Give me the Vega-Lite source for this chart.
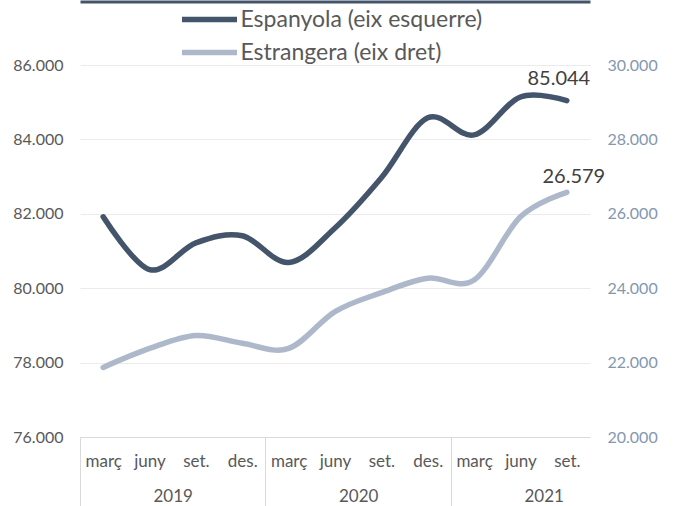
{
  "$schema": "https://vega.github.io/schema/vega-lite/v6.json",
  "width": 510,
  "height": 372,
  "autosize": {"type": "none"},
  "padding": {"left": 80, "top": 65, "right": 88, "bottom": 69},
  "background": "white",
  "config": {
    "locale": {"number": {"decimal": ",", "thousands": ".", "grouping": [3], "currency": ["", " €"]}},
    "font": "Lato",
    "view": {"stroke": null},
    "axis": {"labelFont": "Lato", "title": null}
  },
  "data": {
    "values": [
      {"i": 0, "any": "2019", "mes": "març", "serie": "Espanyola (eix esquerre)", "valor": 81920},
      {"i": 1, "any": "2019", "mes": "juny", "serie": "Espanyola (eix esquerre)", "valor": 80500},
      {"i": 2, "any": "2019", "mes": "set.", "serie": "Espanyola (eix esquerre)", "valor": 81220},
      {"i": 3, "any": "2019", "mes": "des.", "serie": "Espanyola (eix esquerre)", "valor": 81410},
      {"i": 4, "any": "2020", "mes": "març", "serie": "Espanyola (eix esquerre)", "valor": 80690},
      {"i": 5, "any": "2020", "mes": "juny", "serie": "Espanyola (eix esquerre)", "valor": 81620},
      {"i": 6, "any": "2020", "mes": "set.", "serie": "Espanyola (eix esquerre)", "valor": 82970},
      {"i": 7, "any": "2020", "mes": "des.", "serie": "Espanyola (eix esquerre)", "valor": 84580},
      {"i": 8, "any": "2021", "mes": "març", "serie": "Espanyola (eix esquerre)", "valor": 84120},
      {"i": 9, "any": "2021", "mes": "juny", "serie": "Espanyola (eix esquerre)", "valor": 85140},
      {"i": 10, "any": "2021", "mes": "set.", "serie": "Espanyola (eix esquerre)", "valor": 85044},
      {"i": 0, "any": "2019", "mes": "març", "serie": "Estrangera (eix dret)", "valor": 21870},
      {"i": 1, "any": "2019", "mes": "juny", "serie": "Estrangera (eix dret)", "valor": 22380},
      {"i": 2, "any": "2019", "mes": "set.", "serie": "Estrangera (eix dret)", "valor": 22730},
      {"i": 3, "any": "2019", "mes": "des.", "serie": "Estrangera (eix dret)", "valor": 22520},
      {"i": 4, "any": "2020", "mes": "març", "serie": "Estrangera (eix dret)", "valor": 22380},
      {"i": 5, "any": "2020", "mes": "juny", "serie": "Estrangera (eix dret)", "valor": 23370},
      {"i": 6, "any": "2020", "mes": "set.", "serie": "Estrangera (eix dret)", "valor": 23880},
      {"i": 7, "any": "2020", "mes": "des.", "serie": "Estrangera (eix dret)", "valor": 24270},
      {"i": 8, "any": "2021", "mes": "març", "serie": "Estrangera (eix dret)", "valor": 24220},
      {"i": 9, "any": "2021", "mes": "juny", "serie": "Estrangera (eix dret)", "valor": 25920},
      {"i": 10, "any": "2021", "mes": "set.", "serie": "Estrangera (eix dret)", "valor": 26579}
    ]
  },
  "layer": [
    {
      "transform": [{"filter": "datum.serie === 'Espanyola (eix esquerre)'"}],
      "mark": {"type": "line", "interpolate": "cardinal", "strokeWidth": 5.5, "strokeCap": "round"},
      "encoding": {
        "x": {
          "field": "i", "type": "quantitative",
          "scale": {"domain": [-0.5, 10.5], "nice": false, "zero": false},
          "axis": {
            "orient": "bottom", "values": [0, 1, 2, 3, 4, 5, 6, 7, 8, 9, 10],
            "labelExpr": "['març','juny','set.','des.'][datum.value % 4]",
            "ticks": false, "grid": false, "domain": true, "domainColor": "#D9D9D9", "domainWidth": 1,
            "labelFontSize": 17, "labelColor": "#595959", "labelPadding": 16, "labelBaseline": "top"
          }
        },
        "y": {
          "field": "valor", "type": "quantitative",
          "scale": {"domain": [76000, 86000], "nice": false, "zero": false},
          "axis": {
            "orient": "left", "values": [76000, 78000, 80000, 82000, 84000, 86000], "format": ",.0f",
            "ticks": false, "domain": false, "grid": true, "gridColor": "#EBEBEB", "gridWidth": 1,
            "labelFontSize": 16, "labelColor": "#595959", "labelPadding": 17
          }
        },
        "color": {
          "field": "serie", "type": "nominal",
          "scale": {"domain": ["Espanyola (eix esquerre)", "Estrangera (eix dret)"], "range": ["#44546A", "#ADB9CA"]},
          "legend": {
            "orient": "none", "legendX": 116.5, "legendY": -58.5, "direction": "vertical", "title": null,
            "symbolType": "M-2.75,0H2.75", "symbolSize": 400, "symbolStrokeWidth": 5.5,
            "labelFont": "Lato", "labelFontSize": 23, "labelColor": "#595959", "labelOffset": 18,
            "labelLimit": 400, "rowPadding": 8, "padding": 0
          }
        }
      }
    },
    {
      "transform": [{"filter": "datum.serie === 'Estrangera (eix dret)'"}],
      "mark": {"type": "line", "interpolate": "cardinal", "strokeWidth": 5.5, "strokeCap": "round"},
      "encoding": {
        "x": {
          "field": "i", "type": "quantitative",
          "scale": {"domain": [-0.5, 10.5], "nice": false, "zero": false},
          "axis": {
            "orient": "bottom", "values": [1.5, 5.5, 9.5],
            "labelExpr": "'' + (2019 + floor(datum.value / 4))",
            "ticks": false, "grid": false, "domain": false,
            "labelFontSize": 17, "labelColor": "#595959", "labelPadding": 51, "labelBaseline": "top"
          }
        },
        "y": {
          "field": "valor", "type": "quantitative",
          "scale": {"domain": [20000, 30000], "nice": false, "zero": false},
          "axis": {
            "orient": "right", "values": [20000, 22000, 24000, 26000, 28000, 30000], "format": ",.0f",
            "ticks": false, "domain": false, "grid": false,
            "labelFontSize": 16, "labelColor": "#8497B0", "labelPadding": 17
          }
        },
        "color": {"field": "serie", "type": "nominal"}
      }
    },
    {
      "transform": [{"filter": "datum.serie === 'Espanyola (eix esquerre)' && datum.i === 10"}],
      "mark": {"type": "text", "align": "center", "baseline": "alphabetic", "dx": -8, "dy": -16, "fontSize": 20, "color": "#404040", "font": "Lato"},
      "encoding": {
        "x": {
          "field": "i", "type": "quantitative",
          "scale": {"domain": [-0.5, 10.5], "nice": false, "zero": false},
          "axis": {
            "orient": "bottom", "values": [-0.5, 3.5, 7.5], "labels": false, "domain": false, "grid": false,
            "ticks": true, "tickSize": 69, "tickColor": "#D9D9D9", "tickWidth": 1
          }
        },
        "y": {"field": "valor", "type": "quantitative", "scale": {"domain": [76000, 86000], "nice": false, "zero": false}, "axis": null},
        "text": {"field": "valor", "type": "quantitative", "format": ",.0f"}
      }
    },
    {
      "transform": [{"filter": "datum.serie === 'Estrangera (eix dret)' && datum.i === 10"}],
      "mark": {"type": "text", "align": "center", "baseline": "alphabetic", "dx": 7, "dy": -9, "fontSize": 20, "color": "#404040", "font": "Lato"},
      "encoding": {
        "x": {
          "field": "i", "type": "quantitative",
          "scale": {"domain": [-0.5, 10.5], "nice": false, "zero": false},
          "axis": {
            "orient": "top", "offset": 63.5, "labels": false, "ticks": false, "grid": false,
            "domain": true, "domainColor": "#44546A", "domainWidth": 3
          }
        },
        "y": {"field": "valor", "type": "quantitative", "scale": {"domain": [20000, 30000], "nice": false, "zero": false}, "axis": null},
        "text": {"field": "valor", "type": "quantitative", "format": ",.0f"}
      }
    }
  ],
  "resolve": {"scale": {"y": "independent"}, "axis": {"x": "independent", "y": "independent"}}
}
